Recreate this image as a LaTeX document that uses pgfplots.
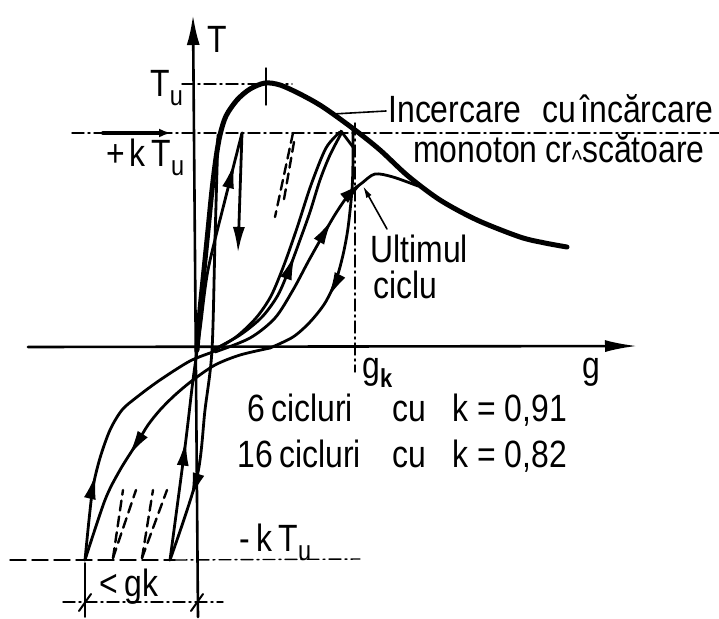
\documentclass[border=0pt]{standalone}
\usepackage{pgfplots}
\pgfplotsset{compat=1.18}
\usepackage{fontspec}
\setmainfont{Liberation Sans}[FakeStretch=0.84]
\usetikzlibrary{arrows.meta,decorations.markings}

\newcommand{\fs}{\fontsize{19}{22}\selectfont}
\newcommand{\subu}{\raisebox{-4.5pt}{\fontsize{14}{14}\selectfont u}}
\tikzset{
  ahead/.tip={Latex[length=13pt,width=6pt]},
  arr/.style={postaction={decorate},
    decoration={markings, mark=at position #1 with {\arrow{ahead}}}},
  arrtwo/.style 2 args={postaction={decorate},
    decoration={markings, mark=at position #1 with {\arrow{ahead}},
                mark=at position #2 with {\arrow{ahead}}}},
  dashdot/.style={line width=0.7pt, dash pattern=on 6pt off 2pt on 1pt off 2pt},
  thin curve/.style={line width=1.4pt},
  lbl/.style={anchor=base west, inner sep=0pt, font=\fs},
}

\begin{document}
\begin{tikzpicture}
\begin{axis}[
  width=359.5pt, height=309pt, scale only axis,
  xmin=0, xmax=719, ymin=0, ymax=618, y dir=reverse,
  axis lines=none, clip=false,
  every axis plot/.append style={black, line join=round, line cap=round},
]

% axes T and g
\addplot[line width=1.3pt, -{Latex[length=15pt,width=6.5pt]}] coordinates {(198,617) (193,15)};
\addplot[line width=1.3pt, -{Latex[length=16pt,width=6pt]}] coordinates {(28,347) (637,346)};

% reference levels
\addplot[dashdot] coordinates {(182,84) (292,84)};
\addplot[line width=0.7pt] coordinates {(266,68) (266,105)};
\addplot[dashdot] coordinates {(72,133) (719,133)};
\addplot[line width=2pt, -{Latex[length=6pt,width=4.5pt]}] coordinates {(103,133) (171,133)};
\addplot[line width=0.7pt, dash pattern=on 8pt off 3pt] coordinates {(10,560) (175,560)};
\addplot[dashdot] coordinates {(175,560) (360,559)};
\addplot[dashdot] coordinates {(355,123) (355,372)};

% dimension < gk
\addplot[line width=0.8pt] coordinates {(85,563) (85,617)};
\addplot[dashdot] coordinates {(63,602) (223,602)};
\addplot[line width=1pt] coordinates {(79,611) (91,594)};
\addplot[line width=1pt] coordinates {(191,611) (203,594)};

% monotonic loading curve
\addplot[line width=2.5pt, smooth] coordinates {
  (197,350) (200,310) (204,270) (208,230) (212,190) (216,158) (220,135)
  (226,116) (237,100) (250,89) (265,83) (280,85) (300,94) (323,107)
  (355,130) (380,150) (408,176) (440,200) (477,220) (520,237) (545,243) (567,247)};

% first steep cycles near the T axis
\addplot[thin curve, smooth, arrtwo={0.28}{0.93}] coordinates {
  (170,560) (185,447) (193,380) (200,330) (208,270) (225,200) (242,133)};
\addplot[thin curve, -{Latex[length=13pt,width=6pt]}] coordinates {(242,133) (238,253)};
\addplot[thin curve, smooth, arr=0.85] coordinates {
  (218,135) (215,240) (212,350) (205,410) (197,477) (170,560)};

% intermediate cycles (dashed)
\addplot[line width=1.2pt, dash pattern=on 5pt off 3pt] coordinates {(293,133) (275,217)};
\addplot[line width=1.2pt, dash pattern=on 5pt off 3pt] coordinates {(294,142) (283,205)};
\addplot[line width=1.2pt, dash pattern=on 5pt off 3pt] coordinates {(113,558) (123,490)};
\addplot[line width=1.2pt, dash pattern=on 5pt off 3pt] coordinates {(113,558) (136,490)};
\addplot[line width=1.2pt, dash pattern=on 5pt off 3pt] coordinates {(142,558) (153,490)};
\addplot[line width=1.2pt, dash pattern=on 5pt off 3pt] coordinates {(142,558) (167,490)};

% wide cycles
\addplot[thin curve, smooth, arr=0.5] coordinates {
  (213,350) (240,335) (262,317) (278,295) (290,267) (300,240) (310,212)
  (320,180) (330,155) (342,132)};
\addplot[thin curve, smooth] coordinates {
  (213,351) (236,337) (256,318) (271,296) (284,265) (297,228) (311,185)
  (326,148) (340,132)};
\addplot[thin curve] coordinates {(341,131) (353,147)};
\addplot[thin curve, smooth, arr=0.69] coordinates {
  (353,127) (353,160) (352,190) (348,228) (343,255) (336,280) (325,303)
  (310,322) (293,337) (270,348)};
\addplot[thin curve, smooth, arr=0.62] coordinates {
  (270,348) (240,355) (215,365) (193,380) (175,395) (160,410) (148,425)
  (137,443) (120,470) (105,500) (85,560)};
\addplot[thin curve, smooth, arr=0.33] coordinates {
  (85,560) (89,520) (93,487) (100,458) (110,430) (122,410) (137,397)
  (160,380) (190,361) (213,352)};
% last cycle
\addplot[thin curve, smooth, arrtwo={0.63}{0.8}] coordinates {
  (215,352) (250,338) (275,318) (293,290) (308,262) (322,237) (336,213)
  (350,193) (362,183) (375,174) (393,177) (418,186)};

% leaders
\addplot[line width=0.8pt] coordinates {(333,114) (386,111)};
\addplot[line width=0.8pt, -{Latex[length=6pt,width=3pt]}] coordinates {(387,229) (363,186)};

% labels
\node[lbl] at (axis cs:207,52) {T};
\node[lbl] at (axis cs:150,96) {T\subu};
\node[lbl] at (axis cs:106,166) {+};
\node[lbl] at (axis cs:129,166) {k\,T\subu};
\node[lbl] at (axis cs:239,551) {-\,k\,T\subu};
\node[lbl] at (axis cs:362,378) {g\raisebox{-4.5pt}{\fontsize{13}{13}\selectfont\bfseries k}};
\node[lbl] at (axis cs:582,378) {g};
\node[lbl] at (axis cs:99,596) {<\,gk};

\node[lbl] at (axis cs:388,122) {Incercare};
\node[lbl] at (axis cs:542,122) {cu};
\node[lbl, anchor=base east] at (axis cs:714,122) {încărcare};
\node[lbl] at (axis cs:413,162) {monoton};
\node[lbl, anchor=base east] at (axis cs:705,162) {cr\raisebox{-3pt}{\fontsize{13}{13}\selectfont\textasciicircum}scătoare};

\node[lbl] at (axis cs:370,262) {Ultimul};
\node[lbl] at (axis cs:373,298) {ciclu};

\node[lbl] at (axis cs:247,421) {6\,cicluri};
\node[lbl] at (axis cs:392,421) {cu};
\node[lbl] at (axis cs:452,421) {k = 0,91};
\node[lbl] at (axis cs:237,467) {16\,cicluri};
\node[lbl] at (axis cs:392,467) {cu};
\node[lbl] at (axis cs:452,467) {k = 0,82};
\end{axis}
\pgfresetboundingbox
\path (current axis.south west) rectangle (current axis.north east);
\end{tikzpicture}
\end{document}
